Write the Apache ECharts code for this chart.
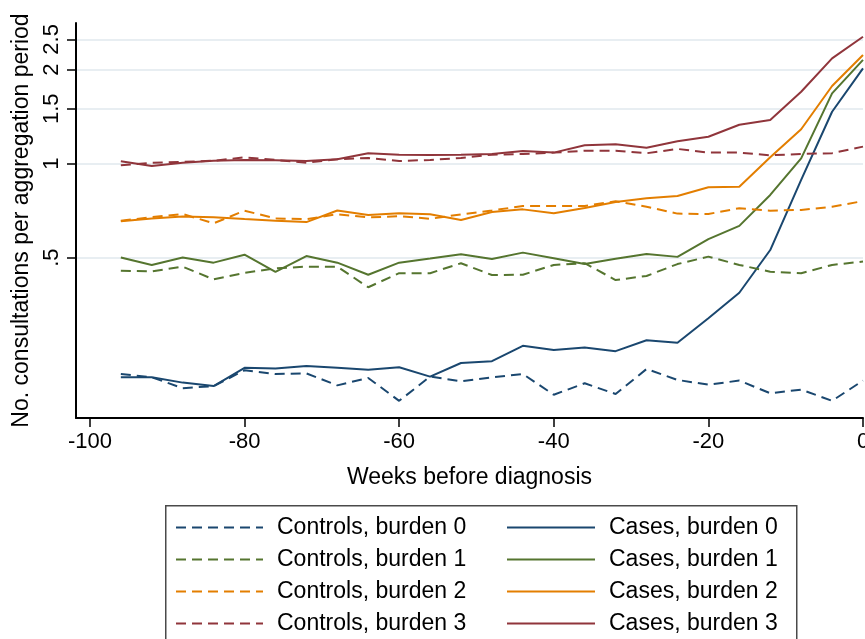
<!DOCTYPE html>
<html>
<head>
<meta charset="UTF-8">
<title></title>
<script src="https://cdn.jsdelivr.net/npm/echarts@6/dist/echarts.min.js"></script>
<style>html,body{margin:0;padding:0;background:#fff;}</style>
</head>
<body>
<div id="chart" style="width:865px;height:639px;"></div>
<script type="text/javascript">
// weeks before diagnosis (x)
var weeks = [-96, -92, -88, -84, -80, -76, -72, -68, -64, -60, -56, -52, -48,
             -44, -40, -36, -32, -28, -24, -20, -16, -12, -8, -4, 0];

// consultations per aggregation period
var controls0 = [0.212, 0.207, 0.191, 0.194, 0.218, 0.212, 0.213, 0.195, 0.206, 0.174, 0.208, 0.201, 0.207,
                 0.212, 0.182, 0.198, 0.183, 0.220, 0.203, 0.196, 0.202, 0.184, 0.189, 0.174, 0.202];
var cases0    = [0.207, 0.207, 0.199, 0.194, 0.222, 0.221, 0.225, 0.222, 0.219, 0.223, 0.208, 0.230, 0.233,
                 0.261, 0.253, 0.258, 0.251, 0.272, 0.267, 0.320, 0.386, 0.529, 0.887, 1.467, 2.02];
var controls1 = [0.454, 0.452, 0.468, 0.426, 0.447, 0.462, 0.468, 0.468, 0.402, 0.446, 0.446, 0.480, 0.440,
                 0.441, 0.474, 0.480, 0.424, 0.437, 0.477, 0.504, 0.474, 0.451, 0.446, 0.474, 0.486];
var cases1    = [0.501, 0.474, 0.501, 0.482, 0.511, 0.450, 0.506, 0.482, 0.441, 0.482, 0.497, 0.513, 0.495,
                 0.519, 0.498, 0.477, 0.496, 0.514, 0.503, 0.573, 0.632, 0.794, 1.04, 1.68, 2.15];
var controls2 = [0.657, 0.674, 0.690, 0.644, 0.707, 0.668, 0.664, 0.689, 0.673, 0.679, 0.666, 0.688, 0.708,
                 0.732, 0.732, 0.732, 0.758, 0.728, 0.692, 0.690, 0.720, 0.707, 0.711, 0.728, 0.759];
var cases2    = [0.654, 0.668, 0.678, 0.674, 0.665, 0.657, 0.650, 0.708, 0.685, 0.694, 0.689, 0.660, 0.700,
                 0.714, 0.694, 0.721, 0.754, 0.775, 0.788, 0.840, 0.844, 1.048, 1.289, 1.773, 2.23];
var controls3 = [0.988, 1.007, 1.013, 1.022, 1.048, 1.028, 1.007, 1.033, 1.043, 1.020, 1.028, 1.043, 1.069,
                 1.074, 1.085, 1.100, 1.100, 1.080, 1.115, 1.085, 1.085, 1.064, 1.074, 1.080, 1.134];
var cases3    = [1.018, 0.983, 1.007, 1.022, 1.028, 1.025, 1.020, 1.033, 1.080, 1.069, 1.066, 1.069, 1.074,
                 1.098, 1.085, 1.145, 1.154, 1.125, 1.180, 1.220, 1.333, 1.380, 1.700, 2.175, 2.55];

var xTicks = [-100, -80, -60, -40, -20, 0];
var yTicks = [0.5, 1, 1.5, 2, 2.5];

var controlNames = ['Controls, burden 0', 'Controls, burden 1', 'Controls, burden 2', 'Controls, burden 3'];
var caseNames = ['Cases, burden 0', 'Cases, burden 1', 'Cases, burden 2', 'Cases, burden 3'];
var colors = ['#1a476f', '#55752f', '#e37e00', '#90353b'];

var font = 'Liberation Sans, Arial, sans-serif';

// y axis is on a log scale
function toPoints(vals) {
	return weeks.map(function (w, i) { return [w, Math.log(vals[i])]; });
}

var controls = [controls0, controls1, controls2, controls3];
var cases = [cases0, cases1, cases2, cases3];
var series = [];
for (var i = 0; i < 4; i++) {
	series.push({
		name: controlNames[i], type: 'line', symbol: 'none', animation: false,
		data: toPoints(controls[i]),
		lineStyle: {color: colors[i], width: 2, type: [10, 6]},
		itemStyle: {color: colors[i]}
	});
	series.push({
		name: caseNames[i], type: 'line', symbol: 'none', animation: false,
		data: toPoints(cases[i]),
		lineStyle: {color: colors[i], width: 2, type: 'solid'},
		itemStyle: {color: colors[i]}
	});
}

var legendText = {fontSize: 23, color: '#000', fontFamily: font, padding: [0, 0, 0, 9]};

var chart = echarts.init(document.getElementById('chart'));
var option = {
	backgroundColor: '#fff',
	animation: false,
	grid: {left: 76, right: 2, top: 23, bottom: 221, outerBoundsMode: 'none', containLabel: false},
	xAxis: {
		type: 'value', min: -101.8, max: 0,
		name: 'Weeks before diagnosis', nameLocation: 'middle', nameGap: 48,
		nameTextStyle: {fontSize: 23, color: '#000', fontFamily: font},
		axisLine: {onZero: false, lineStyle: {color: '#000', width: 2}},
		axisTick: {length: 9, lineStyle: {color: '#000', width: 1.5}, customValues: xTicks},
		axisLabel: {fontSize: 22, color: '#000', fontFamily: font, margin: 13, customValues: xTicks},
		splitLine: {show: false}
	},
	yAxis: {
		type: 'value', min: Math.log(0.1533), max: Math.log(2.822),
		name: 'No. consultations per aggregation period', nameLocation: 'middle', nameGap: 37,
		nameTextStyle: {fontSize: 23, color: '#000', fontFamily: font},
		axisLine: {show: true, onZero: false, lineStyle: {color: '#000', width: 2}},
		axisTick: {show: true, length: 9, lineStyle: {color: '#000', width: 1.5},
			customValues: yTicks.map(Math.log)},
		axisLabel: {
			fontSize: 22, color: '#000', fontFamily: font, rotate: 90, margin: 13,
			customValues: yTicks.map(Math.log),
			formatter: function (v) {
				var r = Math.round(Math.exp(v) * 10) / 10;
				return r < 1 ? String(r).replace(/^0/, '') : String(r);
			}
		},
		splitLine: {show: true, lineStyle: {color: '#e8eef2', width: 2}}
	},
	legend: [
		{data: controlNames, orient: 'vertical', left: 175, top: 516, padding: 0,
		 itemWidth: 87, itemHeight: 14, itemGap: 9, itemStyle: {opacity: 0}, textStyle: legendText},
		{data: caseNames, orient: 'vertical', left: 506, top: 516, padding: 0,
		 itemWidth: 88, itemHeight: 14, itemGap: 9, itemStyle: {opacity: 0}, textStyle: legendText}
	],
	graphic: [{
		type: 'rect', left: 165, top: 505, z: -1,
		shape: {width: 631, height: 200},
		style: {fill: '#fff', stroke: '#4a4a4a', lineWidth: 1.5}
	}],
	series: series
};
chart.setOption(option);
</script>
</body>
</html>
